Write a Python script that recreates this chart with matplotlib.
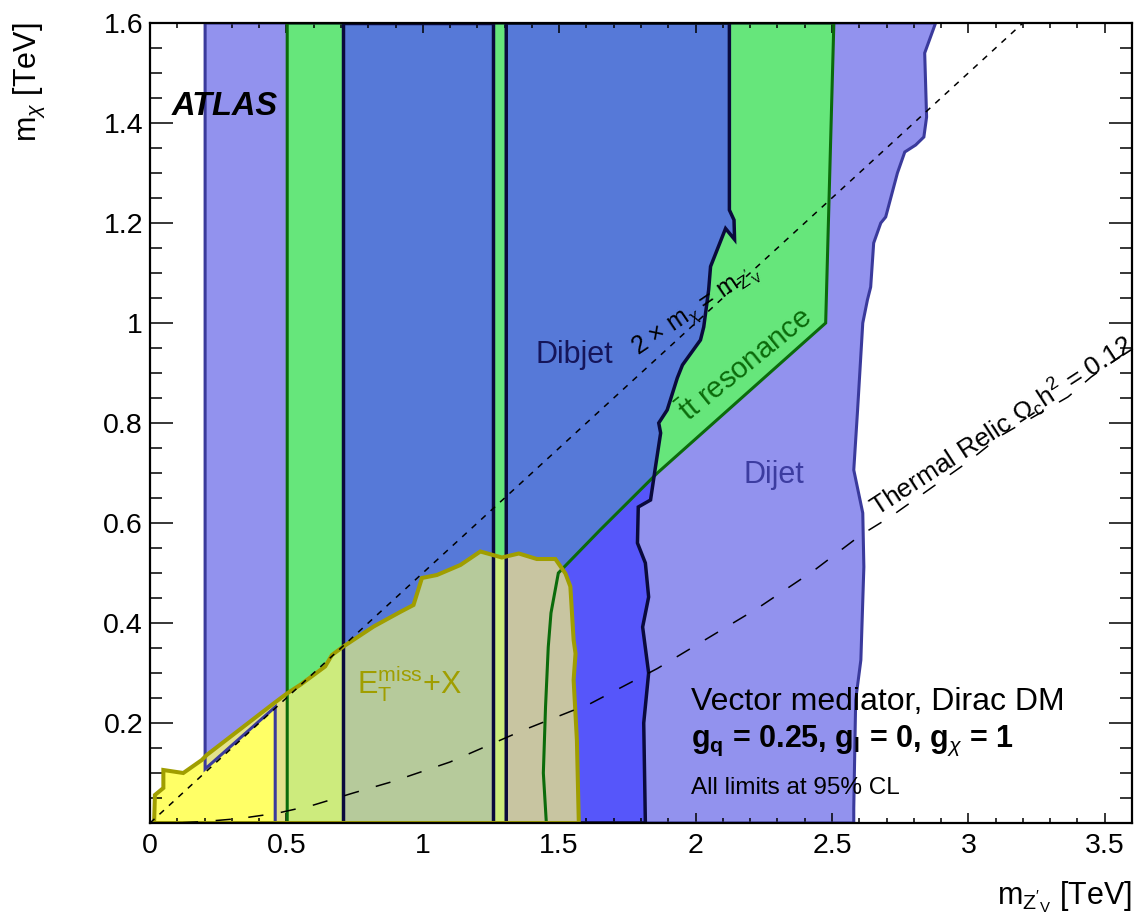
import numpy as np
import matplotlib
matplotlib.use('Agg')
import matplotlib.pyplot as plt
from matplotlib.patches import Polygon
from matplotlib.transforms import Bbox, TransformedBbox
from matplotlib.ticker import FixedLocator, MultipleLocator, FuncFormatter

plt.rcParams['font.family'] = ['Liberation Sans', 'DejaVu Sans']
plt.rcParams['mathtext.fontset'] = 'custom'
plt.rcParams['mathtext.rm'] = 'Liberation Sans'
plt.rcParams['mathtext.it'] = 'Liberation Sans:italic'
plt.rcParams['mathtext.bf'] = 'Liberation Sans:bold'

# ---------------- data (TeV) ----------------
# Dijet excluded region
dijet_x = [0.202, 0.202, 0.459, 0.459, 2.580, 2.580, 2.587, 2.606, 2.617, 2.613, 2.580, 2.594,
           2.613, 2.630, 2.642, 2.653, 2.679, 2.697, 2.740, 2.767, 2.807, 2.837, 2.847, 2.840, 2.880]
dijet_y = [1.600, 0.108, 0.232, 0.000, 0.000, 0.030, 0.246, 0.326, 0.512, 0.620, 0.706, 0.826,
           1.000, 1.046, 1.072, 1.160, 1.200, 1.212, 1.300, 1.342, 1.356, 1.372, 1.412, 1.540, 1.600]

# ttbar resonance excluded region
ttbar_x = [0.503, 0.503, 2.507, 2.477, 1.860, 1.650, 1.497, 1.470, 1.460, 1.450, 1.442, 1.453]
ttbar_y = [0.000, 1.600, 1.600, 1.000, 0.700, 0.586, 0.500, 0.420, 0.352, 0.232, 0.100, 0.000]

# Dibjet excluded regions (two pieces)
dibjet1_x = [0.707, 0.707, 1.256, 1.256]
dibjet1_y = [0.000, 1.600, 1.600, 0.000]
dibjet2_x = [1.306, 1.306, 2.124, 2.124, 2.141, 2.143, 2.110, 2.055, 2.048, 2.030, 2.018, 1.952,
             1.933, 1.896, 1.865, 1.872, 1.853, 1.835, 1.790, 1.787, 1.816, 1.828, 1.806, 1.828,
             1.810, 1.816]
dibjet2_y = [0.000, 1.600, 1.600, 1.226, 1.206, 1.167, 1.189, 1.113, 1.066, 0.992, 0.966, 0.916,
             0.890, 0.826, 0.800, 0.780, 0.712, 0.646, 0.632, 0.560, 0.520, 0.452, 0.392, 0.300,
             0.200, 0.000]

# E_T^miss + X excluded region
etmiss_x = [0.015, 0.018, 0.049, 0.049, 0.122, 0.190, 0.208, 0.453, 0.502, 0.550, 0.642, 0.667,
            0.709, 0.820, 0.917, 0.966, 0.997, 1.052, 1.138, 1.211, 1.290, 1.352, 1.418, 1.486,
            1.523, 1.541, 1.553, 1.560, 1.553, 1.565, 1.572]
etmiss_y = [0.000, 0.056, 0.070, 0.106, 0.100, 0.126, 0.136, 0.239, 0.259, 0.276, 0.313, 0.336,
            0.353, 0.393, 0.422, 0.436, 0.490, 0.496, 0.516, 0.543, 0.531, 0.539, 0.528, 0.528,
            0.499, 0.473, 0.366, 0.339, 0.286, 0.166, 0.000]

# Thermal relic curve
relic_x = [0.00, 0.10, 0.20, 0.33, 0.47, 0.60, 0.745, 0.89, 1.10, 1.37, 1.615, 1.86, 2.226,
           2.434, 2.606, 2.716, 2.998, 3.12, 3.365, 3.45, 3.60]
relic_y = [0.000, 0.000, 0.003, 0.009, 0.020, 0.036, 0.060, 0.083, 0.122, 0.186, 0.239, 0.309,
           0.429, 0.505, 0.576, 0.613, 0.722, 0.775, 0.852, 0.892, 0.950]

# 2 x m_chi = m_Z' line
kin_x = [0.0, 3.2]
kin_y = [0.0, 1.6]

x_major = [0, 0.5, 1, 1.5, 2, 2.5, 3, 3.5]
y_major = [0.2, 0.4, 0.6, 0.8, 1.0, 1.2, 1.4, 1.6]

# ---------------- colours ----------------
c_dijet = '#9292ee'
c_dijet_edge = '#3a3a9c'
c_ttbar = '#66e67b'
c_ttbar_edge = '#0b6b0b'
c_dib_on_green = '#5679d8'
c_dib_on_purple = '#5656fa'
c_dib_edge = '#0a0a3c'
c_et_white = '#ffff66'
c_et_purple = '#e3e28c'
c_et_green = '#cdeb7d'
c_et_dib_green = '#b6ca9b'
c_et_dib_purple = '#c8c5a1'
c_et_edge = '#a09e00'

fig = plt.figure(figsize=(11.37, 9.19), dpi=100)
ax = fig.add_axes([150 / 1137, 96 / 919, 982 / 1137, 800 / 919])


def xy(xs, ys):
    return np.column_stack([xs, ys])


def add_fill(xs, ys, color, z, clip=None, box=None):
    p = Polygon(xy(xs, ys), closed=True, fc=color, ec='none', lw=0,
                transform=ax.transData, zorder=z)
    if clip is not None:
        p.set_clip_path(clip)
    ax.add_patch(p)
    if box is not None:
        p.set_clip_box(TransformedBbox(Bbox.from_extents(*box), ax.transData))
    return p


def add_edge(xs, ys, color, lw, z):
    p = Polygon(xy(xs, ys), closed=True, fill=False, ec=color, lw=lw, zorder=z,
                joinstyle='miter')
    ax.add_patch(p)
    return p


# base fills
dijet_p = add_fill(dijet_x, dijet_y, c_dijet, 1.0)
ttbar_p = add_fill(ttbar_x, ttbar_y, c_ttbar, 1.1)
dib1_p = add_fill(dibjet1_x, dibjet1_y, c_dib_on_purple, 1.2)
dib2_p = add_fill(dibjet2_x, dibjet2_y, c_dib_on_purple, 1.2)
add_fill(dibjet1_x, dibjet1_y, c_dib_on_green, 1.3, clip=ttbar_p)
add_fill(dibjet2_x, dibjet2_y, c_dib_on_green, 1.3, clip=ttbar_p)

# E_T^miss overlay with blended colours
add_fill(etmiss_x, etmiss_y, c_et_white, 1.4)
add_fill(etmiss_x, etmiss_y, c_et_purple, 1.5, clip=dijet_p)
add_fill(etmiss_x, etmiss_y, c_et_green, 1.6, clip=ttbar_p)
add_fill(etmiss_x, etmiss_y, c_et_dib_purple, 1.7, clip=dib1_p)
add_fill(etmiss_x, etmiss_y, c_et_dib_purple, 1.7, clip=dib2_p)
for dx, dy in [(dibjet1_x, dibjet1_y), (dibjet2_x, dibjet2_y)]:
    add_fill(etmiss_x, etmiss_y, c_et_dib_green, 1.8, clip=ttbar_p,
             box=(min(dx), min(dy), max(dx), max(dy)))

# outlines
add_edge(dijet_x, dijet_y, c_dijet_edge, 2.2, 2.0)
add_edge(ttbar_x, ttbar_y, c_ttbar_edge, 2.2, 2.1)
add_edge(dibjet1_x, dibjet1_y, c_dib_edge, 2.5, 2.2)
add_edge(dibjet2_x, dibjet2_y, c_dib_edge, 2.5, 2.2)
add_edge(etmiss_x, etmiss_y, c_et_edge, 2.9, 2.3)

# reference lines
ax.plot(kin_x, kin_y, color='black', lw=1.1, ls=(0, (4, 4.4)), zorder=3)
ax.plot(relic_x, relic_y, color='black', lw=1.1, ls=(0, (10, 11.5)), zorder=3)

# axes
ax.set_xlim(0, 3.6)
ax.set_ylim(0, 1.6)
ax.xaxis.set_major_locator(FixedLocator(x_major))
ax.xaxis.set_minor_locator(MultipleLocator(0.1))
ax.yaxis.set_major_locator(FixedLocator(y_major))
ax.yaxis.set_minor_locator(MultipleLocator(0.05))
fmt = FuncFormatter(lambda v, p: f"{v:g}")
ax.xaxis.set_major_formatter(fmt)
ax.yaxis.set_major_formatter(fmt)
ax.tick_params(which='both', direction='in', top=True, right=True, width=1.1, color='black')
ax.tick_params(axis='x', which='major', length=7.2, labelsize=20.5, pad=7)
ax.tick_params(axis='x', which='minor', length=3.6)
ax.tick_params(axis='y', which='major', length=16.5, labelsize=20.5, pad=5)
ax.tick_params(axis='y', which='minor', length=8.5)
for s in ax.spines.values():
    s.set_linewidth(1.6)
    s.set_zorder(5)

ax.set_xlabel(r"m$_{\mathrm{Z'}_{\mathrm{V}}}$ [TeV]", fontsize=22, loc='right')
ax.xaxis.set_label_coords(1.0, -0.07)
ax.set_ylabel(r"m$_{\chi}$ [TeV]", fontsize=22, loc='top')
ax.yaxis.set_label_coords(-0.105, 1.0)

# labels
ax.text(0.081, 1.416, 'ATLAS', fontsize=23.5, fontweight='bold', fontstyle='italic',
        ha='left', va='baseline', zorder=6)
ax.text(1.556, 0.936, 'Dibjet', fontsize=22, color='#15155a', ha='center', va='center', zorder=6)
ax.text(2.286, 0.696, 'Dijet', fontsize=22, color='#3c3ca0', ha='center', va='center', zorder=6)
ax.text(0.95, 0.278, r"E$_{\mathrm{T}}^{\mathrm{miss}}$+X", fontsize=22, color=c_et_edge,
        ha='center', va='center', zorder=6)
ax.text(2.183, 0.916, r"$\bar{\mathrm{t}}$t resonance", fontsize=21, color=c_ttbar_edge,
        rotation=39, rotation_mode='anchor', ha='center', va='center', zorder=6)
ax.text(1.79, 0.935, r"2 $\times$ m$_{\chi}$ = m$_{\mathrm{Z'}_{\mathrm{V}}}$", fontsize=18,
        rotation=34, rotation_mode='anchor', ha='left', va='baseline', zorder=6)
ax.text(2.665, 0.612, r"Thermal Relic $\Omega_{\mathrm{c}}$h$^{2}$ = 0.12", fontsize=19,
        rotation=33, rotation_mode='anchor', ha='left', va='baseline', zorder=6)
ax.text(1.982, 0.226, 'Vector mediator, Dirac DM', fontsize=23, ha='left', va='baseline', zorder=6)
ax.text(1.982, 0.152, r"g$_{\mathbf{q}}$ = 0.25, g$_{\mathbf{l}}$ = 0, g$_{\chi}$ = 1",
        fontsize=22, fontweight='bold', ha='left', va='baseline', zorder=6)
ax.text(1.982, 0.058, 'All limits at 95% CL', fontsize=17.5, ha='left', va='baseline', zorder=6)

fig.savefig('out.png', dpi=100)
